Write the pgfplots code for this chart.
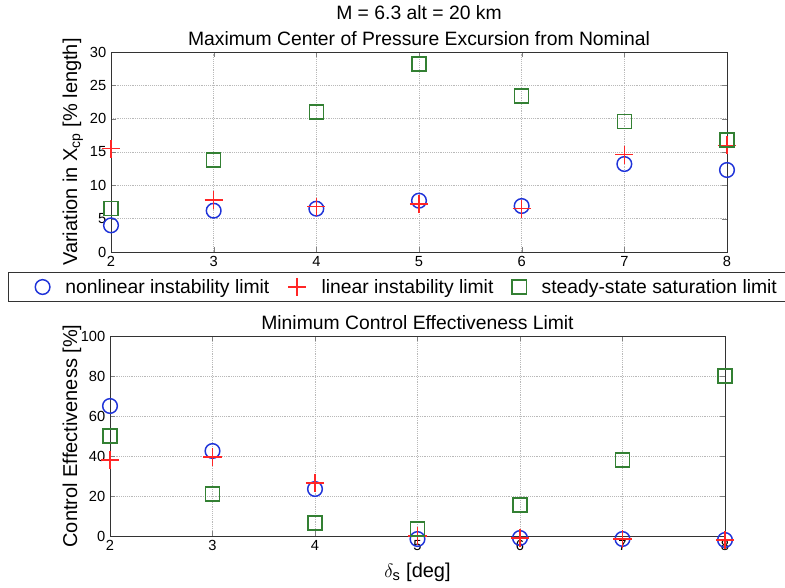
\documentclass[border=0pt]{standalone}
\usepackage{fontspec}
\setmainfont{Liberation Sans}
\usepackage{pgfplots}
\pgfplotsset{compat=1.18}
\definecolor{mblue}{rgb}{0.12,0.2,0.85}
\definecolor{mred}{rgb}{1,0.15,0.15}
\definecolor{mgreen}{rgb}{0.2,0.5,0.2}
\pgfplotsset{
  mystyle/.style={
    anchor=south west, scale only axis, height=150pt,
    xmin=2, xmax=8, xtick={2,3,4,5,6,7,8},
    grid=major, grid style={densely dotted, gray!55, line width=0.5pt},
    tick align=inside, major tick length=4pt,
    axis line style={black!80, line width=0.7pt},
    clip=false,
    tick label style={font=\fontsize{11}{13}\selectfont},
    /pgf/number format/assume math mode=true,
    label style={font=\fontsize{15}{17}\selectfont},
    title style={font=\fontsize{14.5}{19.5}\selectfont, align=center, at={(axis description cs:0.5,1)}, anchor=south, inner sep=2pt, yshift=-3.5pt},
  },
  pc/.style={only marks, mark=o, mark size=5.5pt, color=mblue, line width=1.1pt},
  pp/.style={only marks, mark=+, mark size=6.8pt, color=mred, line width=1.1pt},
  ps/.style={only marks, mark=square, mark size=5.3pt, color=mgreen, line width=1.1pt},
}
\begin{document}
\begin{tikzpicture}
\path[use as bounding box, fill=white] (0,0) rectangle (588.75pt,-440.25pt);
\begin{axis}[mystyle, at={(83.25pt,-189pt)}, width=462pt,
  ymin=0, ymax=30, ytick={0,5,10,15,20,25,30},
  title={M = 6.3 alt = 20 km\\Maximum Center of Pressure Excursion from Nominal},
  ylabel={Variation in X\textsubscript{cp} [\% length]},
  ylabel style={at={(axis description cs:-0.062,0.5)}, anchor=center},
  legend columns=3,
  legend style={at={(axis description cs:-0.167,-0.175)}, anchor=west,
    font=\fontsize{14.5}{16}\selectfont, draw=black!80, line width=0.7pt,
    inner xsep=20pt, inner ysep=3pt,
    /tikz/every odd column/.append style={column sep=9.5pt},
    /tikz/every even column/.append style={column sep=12pt}},
]
\addplot[pc] coordinates {(2,4.0) (3,6.2) (4,6.5) (5,7.7) (6,6.9) (7,13.2) (8,12.3)};
\addplot[pp] coordinates {(2,15.5) (3,7.8) (4,6.8) (5,7.2) (6,6.5) (7,14.6) (8,16.0)};
\addplot[ps] coordinates {(2,6.5) (3,13.8) (4,21.0) (5,28.2) (6,23.4) (7,19.6) (8,16.8)};
\legend{nonlinear instability limit, linear instability limit, steady-state saturation limit}
\end{axis}
\begin{axis}[mystyle, at={(82.5pt,-402pt)}, width=461.25pt,
  ymin=0, ymax=100, ytick={0,20,40,60,80,100},
  title={Minimum Control Effectiveness Limit},
  ylabel={Control Effectiveness [\%]},
  ylabel style={at={(axis description cs:-0.062,0.5)}, anchor=center},
  xlabel={$\delta_{\mbox{\fontsize{11}{13}\selectfont s}}$ [deg]},
  xlabel style={at={(axis description cs:0.5,-0.18)}, anchor=center},
]
\addplot[pc] coordinates {(2,65) (3,42.5) (4,23.5) (5,-1.5) (6,-1) (7,-1.5) (8,-2)};
\addplot[pp] coordinates {(2,38) (3,39.5) (4,26.5) (5,0) (6,-1) (7,-1.5) (8,-2)};
\addplot[ps] coordinates {(2,50) (3,21) (4,6.5) (5,3.5) (6,15.5) (7,38) (8,80)};
\end{axis}
\end{tikzpicture}
\end{document}
